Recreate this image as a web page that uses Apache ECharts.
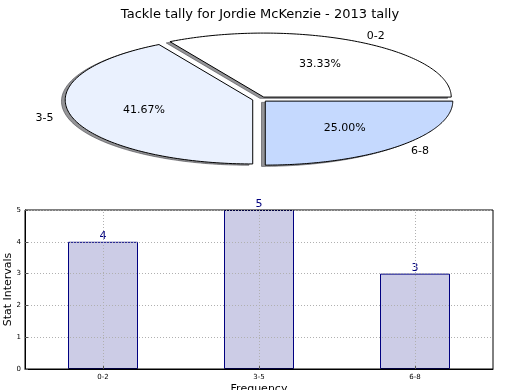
<!DOCTYPE html>
<html>
<head>
<meta charset="utf-8">
<script src="https://cdn.jsdelivr.net/npm/echarts@6/dist/echarts.min.js"></script>
<style>html,body{margin:0;padding:0;background:#fff;}#c{width:520px;height:390px;}</style>
</head>
<body>
<div id="c"></div>
<script>
const titleText = 'Tackle tally for Jordie McKenzie - 2013 tally';
const categories = ['0-2', '3-5', '6-8'];
const values = [4, 5, 3];
const pieColors = ['#ffffff', '#eaf1fe', '#c5d9fe'];
const yTicks = [0, 1, 2, 3, 4, 5];

const FONT = 'DejaVu Sans';
const total = values.reduce((a, b) => a + b, 0);
const explode = 0.04, pctDist = 0.6, labelDist = 1.1;

function sliceGeom(i) {
  let cum = 0;
  for (let k = 0; k < i; k++) cum += values[k];
  const t1 = 2 * Math.PI * cum / total;
  const t2 = 2 * Math.PI * (cum + values[i]) / total;
  const tm = (t1 + t2) / 2;
  const ox = explode * Math.cos(tm), oy = explode * Math.sin(tm);
  return { t1, t2, tm, ox, oy };
}
function slicePoints(api, i, dx, dy) {
  const g = sliceGeom(i);
  const pts = [api.coord([g.ox + dx, g.oy + dy])];
  const n = 120;
  for (let s = 0; s <= n; s++) {
    const t = g.t1 + (g.t2 - g.t1) * s / n;
    pts.push(api.coord([g.ox + dx + Math.cos(t), g.oy + dy + Math.sin(t)]));
  }
  return pts;
}
const sliceData = values.map((v, i) => [0, 0, v]);
const gridStyle = { type: [1, 2], color: '#b0b0b0', width: 1 };

const chart = echarts.init(document.getElementById('c'));
chart.setOption({
  animation: false,
  title: { text: titleText, left: 'center', top: 3, textStyle: { fontFamily: FONT, fontSize: 13, fontWeight: 'normal', color: '#000' } },
  grid: [
    { left: 25.6, top: 19.3, width: 468.75, height: 160, show: false, outerBoundsMode: 'none', containLabel: false },
    { left: 25, top: 210, right: 27, bottom: 21, show: true, borderColor: '#000', borderWidth: 1, z: 4, outerBoundsMode: 'none', containLabel: false }
  ],
  xAxis: [
    { gridIndex: 0, type: 'value', min: -1.25, max: 1.25, show: false },
    { gridIndex: 1, type: 'category', data: categories, z: 4,
      name: 'Frequency', nameLocation: 'middle', nameGap: 15, nameMoveOverlap: false,
      nameTextStyle: { fontFamily: FONT, fontSize: 11, color: '#000' },
      axisLine: { lineStyle: { color: '#000' } },
      axisTick: { show: true, inside: true, alignWithLabel: true, length: 3, lineStyle: { color: '#555' } },
      axisLabel: { fontFamily: FONT, fontSize: 7, color: '#000', margin: 5 },
      splitLine: { show: false } }
  ],
  yAxis: [
    { gridIndex: 0, type: 'value', min: -1.25, max: 1.25, show: false },
    { gridIndex: 1, type: 'value', min: 0, max: 5, interval: 1, z: 4,
      name: 'Stat Intervals', nameLocation: 'middle', nameGap: 11, nameMoveOverlap: false,
      nameTextStyle: { fontFamily: FONT, fontSize: 11, color: '#000' },
      axisLine: { show: true, lineStyle: { color: '#000' } },
      axisTick: { show: true, inside: true, length: 3, lineStyle: { color: '#555' } },
      axisLabel: { fontFamily: FONT, fontSize: 7, color: '#000', margin: 4,
        formatter: v => yTicks.includes(v) ? String(v) : '' },
      splitLine: { show: true, lineStyle: gridStyle } }
  ],
  series: [
    { type: 'custom', xAxisIndex: 0, yAxisIndex: 0, z: 1, silent: true, data: sliceData,
      renderItem: (params, api) => ({
        type: 'polygon',
        shape: { points: slicePoints(api, params.dataIndex, -0.02, -0.02) },
        style: { fill: 'rgba(60,60,66,0.55)', stroke: 'rgba(60,60,66,0.55)', lineWidth: 1 }
      }) },
    { type: 'custom', xAxisIndex: 0, yAxisIndex: 0, z: 2, silent: true, data: sliceData,
      renderItem: (params, api) => {
        const i = params.dataIndex;
        const g = sliceGeom(i);
        const lp = api.coord([g.ox + labelDist * Math.cos(g.tm), g.oy + labelDist * Math.sin(g.tm)]);
        const pp = api.coord([g.ox + pctDist * Math.cos(g.tm), g.oy + pctDist * Math.sin(g.tm)]);
        const pct = (100 * values[i] / total).toFixed(2) + '%';
        return { type: 'group', children: [
          { type: 'polygon', shape: { points: slicePoints(api, i, 0, 0) },
            style: { fill: pieColors[i], stroke: '#000', lineWidth: 1 } },
          { type: 'text', x: lp[0], y: lp[1],
            style: { text: categories[i], fill: '#000', font: '11px ' + FONT,
              align: Math.cos(g.tm) > 0 ? 'left' : 'right', verticalAlign: 'middle' } },
          { type: 'text', x: pp[0], y: pp[1],
            style: { text: pct, fill: '#000', font: '11px ' + FONT, align: 'center', verticalAlign: 'middle' } }
        ] };
      } },
    { type: 'bar', xAxisIndex: 1, yAxisIndex: 1, data: values, barWidth: 70, z: 2,
      itemStyle: { color: '#ccccE6', borderColor: '#000080', borderWidth: 1 },
      label: { show: true, position: 'top', distance: 0, color: '#00007f', fontFamily: FONT, fontSize: 11 },
      markLine: { silent: true, symbol: 'none', z: 3, label: { show: false },
        lineStyle: gridStyle, emphasis: { disabled: true },
        data: categories.map(c => ({ xAxis: c })) } }
  ]
});
</script>
</body>
</html>
